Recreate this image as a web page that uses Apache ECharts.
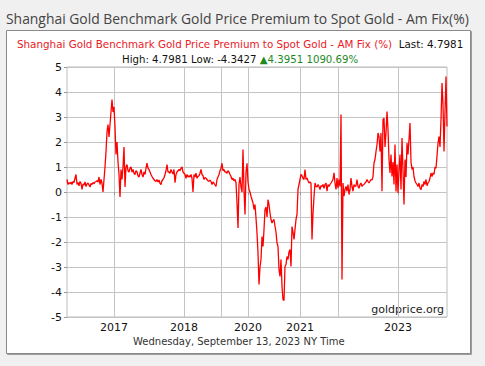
<!DOCTYPE html>
<html>
<head>
<meta charset="utf-8">
<script src="https://cdn.jsdelivr.net/npm/echarts@6/dist/echarts.min.js"></script>
<style>
html,body{margin:0;padding:0;background:#f0f0f0;}
#chart{width:485px;height:366px;}
</style>
</head>
<body>
<div id="chart"></div>
<script>
// ---- data ----
const pageTitle = 'Shanghai Gold Benchmark Gold Price Premium to Spot Gold - Am Fix(%)';
const seriesName = 'Shanghai Gold Benchmark Gold Price Premium to Spot Gold - AM Fix (%)';
const lastText = 'Last: 4.7981';
const statsText = 'High: 4.7981 Low: -4.3427 ';
const changeText = '\u25B24.3951 1090.69%';
const dateText = 'Wednesday, September 13, 2023 NY Time';
const watermark = 'goldprice.org';

// x-axis ticks: position (sample index) and label
const tickPositions = [47, 117, 154.5, 181, 233, 271, 331];
const tickLabels = ['2017', '2018', '', '2020', '2021', '', '2023'];

// y-axis
const yTicks = [-5, -4, -3, -2, -1, 0, 1, 2, 3, 4, 5];

// premium (%) by sample index
const premium = [
0.50,0.30,0.38,0.32,0.40,0.30,0.42,0.38,0.55,0.70,
0.30,0.38,0.25,0.42,0.35,0.10,0.32,0.28,0.40,0.22,
0.32,0.36,0.28,0.20,0.34,0.30,0.38,0.33,0.40,0.42,
0.45,0.40,0.60,0.30,0.50,0.35,0.00,0.50,1.00,1.60,
2.40,2.70,2.20,2.70,3.20,3.70,3.20,3.40,2.60,1.50,
2.00,1.20,0.70,-0.20,0.90,0.50,1.00,1.80,0.20,1.00,
1.10,0.85,0.80,0.95,1.00,0.80,0.90,0.75,0.70,0.85,
0.80,0.65,0.60,0.75,0.90,0.70,0.60,0.80,0.70,0.95,
1.15,0.95,0.90,0.80,0.70,0.62,0.55,0.50,0.45,0.42,
0.50,0.40,0.48,0.35,0.30,0.45,0.50,0.57,0.70,0.85,
1.10,0.80,0.80,0.75,0.90,0.80,0.72,0.90,0.37,0.70,
0.80,0.85,0.90,0.85,0.95,1.00,0.80,0.75,0.70,0.55,
0.70,0.60,0.65,0.60,0.70,0.55,0.00,0.70,0.60,0.75,
0.55,0.62,0.65,0.75,0.90,0.70,0.65,0.50,0.58,0.55,
0.50,0.45,0.42,0.48,0.42,0.30,0.40,0.35,0.28,0.22,
0.50,0.60,0.70,0.85,0.95,1.15,0.85,0.90,0.80,0.80,
0.75,0.85,0.80,0.70,0.62,0.50,0.55,0.45,0.50,0.37,
-0.43,-1.44,0.30,0.60,0.20,0.00,1.70,0.10,-0.90,0.80,
1.15,0.40,0.10,0.00,-0.17,-0.30,-0.44,-0.70,-0.50,-1.04,
-1.64,-2.44,-3.70,-3.00,-2.70,-1.78,-2.18,-1.50,-0.70,-0.60,
-1.00,-0.31,-0.50,-0.84,-1.10,-1.24,-1.15,-1.10,-1.37,-1.60,
-2.04,-2.18,-3.10,-3.38,-2.70,-3.78,-4.30,-4.34,-2.98,-2.90,
-2.58,-2.70,-2.40,-2.30,-2.98,-1.38,-1.60,-1.90,-1.50,-1.10,
-0.90,0.10,0.30,0.50,0.70,0.65,0.55,0.50,0.90,0.50,
0.56,0.45,0.36,0.40,0.35,-1.90,-0.84,-0.20,0.36,0.22,
0.20,0.30,0.22,0.10,0.25,0.22,0.30,0.15,0.30,0.36,
0.03,0.30,0.22,0.30,0.36,0.43,0.50,0.77,0.36,0.10,
0.56,0.15,0.50,0.22,3.10,-3.50,0.36,-0.17,0.10,0.22,
0.03,0.30,-0.10,0.10,0.56,0.22,0.03,0.30,0.22,0.25,
0.50,0.22,0.15,0.30,0.36,0.22,0.28,0.30,0.36,0.40,
0.50,0.42,0.36,0.43,0.50,0.48,0.62,1.16,1.30,1.62,
1.89,2.36,2.20,1.62,2.36,0.03,2.90,2.96,1.80,2.36,
3.22,2.50,1.30,0.76,1.50,0.62,1.20,0.30,1.90,0.02,
1.10,-0.04,0.90,1.50,0.10,2.16,0.90,-0.50,1.30,0.60,
1.96,1.50,2.10,2.76,1.20,0.90,1.00,0.62,0.45,0.36,
0.30,0.22,0.36,0.15,0.09,0.30,0.22,0.42,0.30,0.50,
0.25,0.36,0.42,0.55,0.76,0.62,0.76,0.70,1.00,0.95,
1.43,1.96,2.22,1.80,2.90,4.36,3.50,1.62,3.20,4.62,
2.62
];

// ---- chart ----
const chart = echarts.init(document.getElementById('chart'), null, {renderer: 'svg'});
const FONT = 'DejaVu Sans';

const option = {
  animation: false,
  backgroundColor: '#f0f0f0',
  graphic: [
    {
      type: 'rect', silent: true, z: -10,
      shape: {x: 6.5, y: 30.5, width: 464, height: 323},
      style: {fill: '#ffffff', stroke: '#8a8a8a', lineWidth: 1,
              shadowColor: 'rgba(0,0,0,0.35)', shadowOffsetX: 1, shadowOffsetY: 1, shadowBlur: 1}
    },
    {
      type: 'text', left: 6, top: 11, silent: true,
      style: {text: pageTitle, fill: '#444444', font: '13.9px "Open Sans"'}
    },
    {
      type: 'text', left: 17, top: 38, silent: true,
      style: {
        text: '{r|' + seriesName + '}  {k|' + lastText + '}',
        rich: {
          r: {fill: '#e8201f', font: '10.35px "DejaVu Sans"'},
          k: {fill: '#111111', font: '10.35px "DejaVu Sans"'}
        }
      }
    },
    {
      type: 'text', left: 122, top: 54, silent: true,
      style: {
        text: '{k|' + statsText + '}{g|' + changeText + '}',
        rich: {
          k: {fill: '#111111', font: '10.2px "DejaVu Sans"'},
          g: {fill: '#1d8a1d', font: '10.2px "DejaVu Sans"'}
        }
      }
    },
    {
      type: 'text', right: 41, top: 304, silent: true,
      style: {text: watermark, fill: '#222222', font: '11px "DejaVu Sans"'}
    },
    {
      type: 'text', left: 133, top: 336, silent: true,
      style: {text: dateText, fill: '#333333', font: '10px "DejaVu Sans"'}
    }
  ],
  grid: {left: 67, right: 38, top: 67, bottom: 49, show: true, borderColor: '#bcbcbc', borderWidth: 1, backgroundColor: '#ffffff'},
  xAxis: {
    type: 'value', min: 0, max: premium.length - 1,
    axisLine: {show: false},
    axisTick: {show: true, length: 3, lineStyle: {color: '#999'}, customValues: tickPositions},
    axisLabel: {
      customValues: tickPositions,
      color: '#111', fontFamily: FONT, fontSize: 11, margin: 5,
      formatter: function (v) { const i = tickPositions.indexOf(v); return i >= 0 ? tickLabels[i] : ''; }
    },
    splitLine: {show: true, lineStyle: {color: '#c4c4c4', width: 1}}
  },
  yAxis: {
    type: 'value', min: yTicks[0], max: yTicks[yTicks.length - 1], interval: 1,
    axisLine: {show: false},
    axisTick: {show: true, length: 3, lineStyle: {color: '#999'}},
    axisLabel: {color: '#111', fontFamily: FONT, fontSize: 11, margin: 5},
    splitLine: {show: true, lineStyle: {color: '#c4c4c4', width: 1}}
  },
  series: [{
    type: 'line',
    name: seriesName,
    data: premium.map(function (v, i) { return [i, v]; }),
    showSymbol: false,
    lineStyle: {color: '#ff0000', width: 1.3},
    itemStyle: {color: '#ff0000'}
  }]
};
chart.setOption(option);
</script>
</body>
</html>
